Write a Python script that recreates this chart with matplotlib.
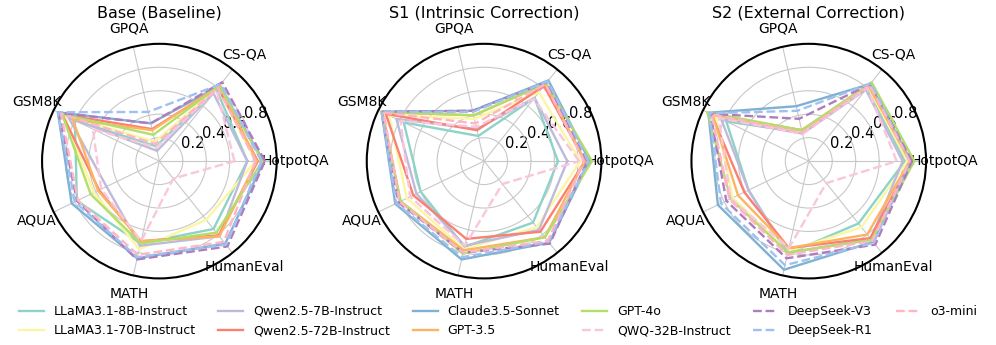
import matplotlib.pyplot as plt
import numpy as np

# Assi del radar
categories = ["HotpotQA", "CS-QA", "GPQA", "GSM8K", "AQUA", "MATH", "HumanEval"]
panel_titles = ["Base (Baseline)", "S1 (Intrinsic Correction)", "S2 (External Correction)"]

models = ["LLaMA3.1-8B-Instruct", "LLaMA3.1-70B-Instruct", "Qwen2.5-7B-Instruct",
          "Qwen2.5-72B-Instruct", "Claude3.5-Sonnet", "GPT-3.5", "GPT-4o",
          "QWQ-32B-Instruct", "DeepSeek-V3", "DeepSeek-R1", "o3-mini"]
colors = ["#8dd3c7", "#fbf6a2", "#bebada", "#fb8072", "#80b1d3", "#fdb462",
          "#b3de69", "#f9c6dc", "#b07cc0", "#9fc1ef", "#ffb6c4"]
dashed = [False, False, False, False, False, False, False, True, True, True, True]

# Valori (ordine: categories)
base = [
    [0.75, 0.78, 0.13, 0.80, 0.78, 0.72, 0.74],
    [0.82, 0.80, 0.17, 0.90, 0.62, 0.77, 0.64],
    [0.75, 0.74, 0.09, 0.86, 0.50, 0.74, 0.82],
    [0.84, 0.80, 0.28, 0.92, 0.57, 0.70, 0.81],
    [0.89, 0.82, 0.33, 0.96, 0.83, 0.85, 0.90],
    [0.83, 0.83, 0.27, 0.82, 0.58, 0.70, 0.82],
    [0.88, 0.82, 0.23, 0.92, 0.65, 0.72, 0.78],
    [0.64, 0.78, 0.12, 0.63, 0.55, 0.70, 0.19],
    [0.90, 0.86, 0.33, 0.95, 0.78, 0.86, 0.93],
    [0.87, 0.84, 0.43, 0.96, 0.80, 0.84, 0.91],
    [0.82, 0.80, 0.15, 0.93, 0.77, 0.82, 0.88],
]
s1 = [
    [0.63, 0.69, 0.22, 0.76, 0.60, 0.75, 0.67],
    [0.82, 0.75, 0.37, 0.90, 0.73, 0.77, 0.72],
    [0.71, 0.69, 0.28, 0.83, 0.64, 0.74, 0.75],
    [0.86, 0.82, 0.27, 0.93, 0.67, 0.68, 0.77],
    [0.90, 0.88, 0.44, 0.97, 0.84, 0.86, 0.89],
    [0.86, 0.84, 0.40, 0.96, 0.79, 0.78, 0.83],
    [0.92, 0.85, 0.40, 0.97, 0.79, 0.81, 0.83],
    [0.81, 0.68, 0.30, 0.79, 0.70, 0.74, 0.25],
    [0.88, 0.86, 0.44, 0.97, 0.81, 0.80, 0.90],
    [0.89, 0.87, 0.43, 0.97, 0.83, 0.84, 0.88],
    [0.85, 0.84, 0.33, 0.95, 0.80, 0.80, 0.87],
]
s2 = [
    [0.82, 0.80, 0.25, 0.78, 0.57, 0.81, 0.68],
    [0.84, 0.81, 0.26, 0.88, 0.72, 0.79, 0.72],
    [0.80, 0.78, 0.24, 0.83, 0.57, 0.80, 0.85],
    [0.87, 0.82, 0.27, 0.92, 0.61, 0.76, 0.84],
    [0.87, 0.84, 0.48, 0.95, 0.86, 0.95, 0.88],
    [0.86, 0.82, 0.27, 0.91, 0.67, 0.76, 0.80],
    [0.90, 0.86, 0.27, 0.96, 0.74, 0.80, 0.86],
    [0.75, 0.80, 0.24, 0.85, 0.74, 0.76, 0.24],
    [0.88, 0.84, 0.37, 0.93, 0.78, 0.85, 0.91],
    [0.86, 0.85, 0.44, 0.94, 0.83, 0.91, 0.89],
    [0.86, 0.83, 0.25, 0.92, 0.75, 0.82, 0.87],
]
panels = [base, s1, s2]

angles = np.linspace(0, 2 * np.pi, len(categories), endpoint=False)
angles_closed = np.concatenate([angles, angles[:1]])

fig = plt.figure(figsize=(9.96, 3.45), dpi=100)
centers = [0.160, 0.486, 0.812]
w, h = 0.236, 0.680

handles = []
for k, (cx, data, title) in enumerate(zip(centers, panels, panel_titles)):
    ax = fig.add_axes([cx - w / 2, 0.193, w, h], projection="polar")
    for i, vals in enumerate(data):
        v = np.concatenate([vals, vals[:1]])
        ln, = ax.plot(angles_closed, v, color=colors[i], linewidth=1.7,
                      linestyle="--" if dashed[i] else "-", label=models[i])
        if k == 0:
            handles.append(ln)
    ax.set_ylim(0, 1)
    ax.set_yticks([0.2, 0.4, 0.6, 0.8])
    ax.set_yticklabels(["0.2", "0.4", "0.6", "0.8"], fontsize=10.5)
    ax.set_rlabel_position(25)
    ax.set_xticks(angles)
    ax.set_xticklabels(categories, fontsize=10)
    ax.tick_params(axis="x", pad=3)
    ax.grid(color="#c8c8c8", linewidth=0.8)
    ax.spines["polar"].set_linewidth(1.5)
    ax.set_title(title, fontsize=11.5, y=1.0, pad=19)

fig.legend(handles=handles, loc="lower center", ncol=6, frameon=False,
           fontsize=9, bbox_to_anchor=(0.5, -0.01), handlelength=2,
           columnspacing=1.8)

plt.savefig("out.png", dpi=100)
plt.close()
